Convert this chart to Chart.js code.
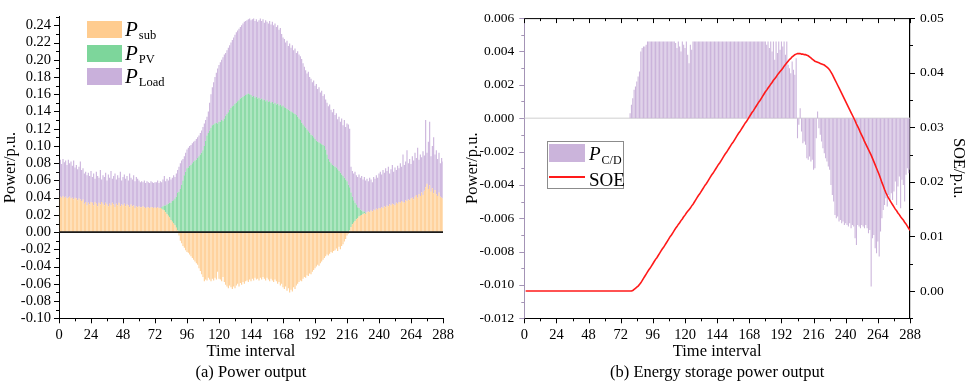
<!DOCTYPE html>
<html>
<head>
<meta charset="utf-8">
<title>Power output and energy storage power output</title>
<script src="https://cdn.jsdelivr.net/npm/chart.js@4.4.1/dist/chart.umd.min.js"></script>
<style>
  html, body { margin: 0; padding: 0; background: #fff; }
  body { position: relative; width: 969px; height: 383px; overflow: hidden;
         font-family: 'Liberation Serif', 'Times New Roman', serif; color: #000; }
  canvas { position: absolute; top: 0; }
  #powerChart { left: 0; }
  #storageChart { left: 462px; }
  .key { position: absolute; }
  .label { position: absolute; white-space: nowrap; }
  .label i { font-style: italic; }
  .label span { position: relative; margin-left: 1px; }
  #soeFrame { position: absolute; left: 547px; top: 141px; width: 75px; height: 46px; border: 1px solid #8c8c8c; }
</style>
</head>
<body>
<canvas id="powerChart" width="462" height="383"></canvas>
<canvas id="storageChart" width="507" height="383"></canvas>

<!-- legend of panel (a) -->
<div class="key" style="left:87px;top:21px;width:35px;height:17px;background:#FFCC8F"></div>
<div class="key" style="left:87px;top:44.5px;width:35px;height:17px;background:#7DD69B"></div>
<div class="key" style="left:87px;top:68px;width:35px;height:17px;background:#C9B0DB"></div>
<div class="label" style="left:125px;top:19px;font-size:21px;line-height:21px"><i>P</i><span style="font-size:12.5px;top:3px">sub</span></div>
<div class="label" style="left:125px;top:43px;font-size:21px;line-height:21px"><i>P</i><span style="font-size:12.5px;top:3px">PV</span></div>
<div class="label" style="left:125px;top:66px;font-size:21px;line-height:21px"><i>P</i><span style="font-size:12.5px;top:3px">Load</span></div>

<!-- legend of panel (b) -->
<div id="soeFrame"></div>
<div class="key" style="left:549px;top:144px;width:36px;height:18px;background:#CBB4DB"></div>
<div class="key" style="left:549px;top:176px;width:36px;height:1.6px;background:#FF1A1A"></div>
<div class="label" style="left:589px;top:144px;font-size:19px;line-height:19px"><i>P</i><span style="font-size:12px;top:4px">C/D</span></div>
<div class="label" style="left:589px;top:169.5px;font-size:19px;line-height:19px">SOE</div>

<script>
// time intervals (5 min steps over one day)
const intervals = Array.from({ length: 288 }, (_, i) => i + 1);

const xTicks = [0, 24, 48, 72, 96, 120, 144, 168, 192, 216, 240, 264, 288];
const powerTicks = [-0.10, -0.08, -0.06, -0.04, -0.02, 0.00, 0.02, 0.04, 0.06, 0.08, 0.10, 0.12,
                    0.14, 0.16, 0.18, 0.20, 0.22, 0.24];
const storageTicks = [-0.012, -0.010, -0.008, -0.006, -0.004, -0.002, 0.000, 0.002, 0.004, 0.006];
const soeTicks = [0.00, 0.01, 0.02, 0.03, 0.04, 0.05];

// (a) substation power
const pSub = [
  0.041,0.040,0.042,0.040,0.041,0.039,0.040,0.041,0.039,0.040,0.038,0.040,0.039,0.037,0.039,0.038,0.036,0.038,0.033,0.035,0.031,0.034,0.032,0.035,
  0.034,0.031,0.035,0.033,0.030,0.034,0.032,0.035,0.033,0.031,0.034,0.032,0.030,0.033,0.031,0.034,0.032,0.029,0.033,0.031,0.034,0.030,0.032,0.031,
  0.033,0.030,0.032,0.031,0.029,0.032,0.030,0.031,0.028,0.030,0.029,0.030,0.029,0.029,0.030,0.029,0.028,0.029,0.029,0.028,0.029,0.029,0.028,0.029,
  0.028,0.029,0.028,0.028,0.027,0.026,0.025,0.023,0.021,0.019,0.017,0.014,0.012,0.010,0.008,0.005,0.002,-0.004,-0.010,-0.013,-0.016,-0.018,-0.021,-0.023,
  -0.024,-0.026,-0.028,-0.030,-0.032,-0.034,-0.036,-0.038,-0.042,-0.045,-0.049,-0.052,-0.057,-0.055,-0.056,-0.053,-0.055,-0.057,-0.054,-0.056,-0.053,-0.055,-0.046,-0.054,
  -0.055,-0.057,-0.052,-0.058,-0.061,-0.063,-0.065,-0.062,-0.064,-0.066,-0.063,-0.065,-0.062,-0.060,-0.063,-0.059,-0.061,-0.058,-0.060,-0.057,-0.056,-0.058,-0.055,-0.057,
  -0.054,-0.056,-0.053,-0.055,-0.054,-0.056,-0.053,-0.055,-0.052,-0.054,-0.056,-0.053,-0.055,-0.057,-0.054,-0.056,-0.058,-0.055,-0.057,-0.060,-0.058,-0.062,-0.060,-0.064,
  -0.066,-0.063,-0.068,-0.065,-0.070,-0.067,-0.069,-0.064,-0.066,-0.062,-0.060,-0.058,-0.056,-0.057,-0.054,-0.052,-0.053,-0.050,-0.051,-0.048,-0.049,-0.046,-0.044,-0.042,
  -0.040,-0.038,-0.039,-0.036,-0.034,-0.032,-0.030,-0.028,-0.026,-0.027,-0.025,-0.023,-0.024,-0.022,-0.021,-0.019,-0.022,-0.017,-0.020,-0.016,-0.014,-0.011,-0.008,-0.004,
  -0.002,0.002,0.006,0.009,0.011,0.013,0.015,0.016,0.018,0.019,0.020,0.021,0.022,0.021,0.023,0.024,0.023,0.025,0.024,0.026,0.025,0.027,0.026,0.028,
  0.027,0.029,0.028,0.030,0.029,0.031,0.030,0.032,0.031,0.033,0.032,0.031,0.034,0.033,0.035,0.034,0.036,0.035,0.034,0.037,0.036,0.038,0.037,0.039,
  0.040,0.038,0.041,0.043,0.040,0.044,0.042,0.046,0.043,0.048,0.052,0.056,0.050,0.054,0.047,0.051,0.045,0.049,0.044,0.042,0.046,0.041,0.040,0.039
];

// (a) PV output
const pPV = [
  0,0,0,0,0,0,0,0,0,0,0,0,0,0,0,0,0,0,0,0,0,0,0,0,
  0,0,0,0,0,0,0,0,0,0,0,0,0,0,0,0,0,0,0,0,0,0,0,0,
  0,0,0,0,0,0,0,0,0,0,0,0,0,0,0,0,0,0,0,0,0,0,0,0,
  0,0,0,0,0.002,0.004,0.006,0.008,0.011,0.014,0.017,0.020,0.024,0.027,0.031,0.036,0.044,0.047,0.050,0.055,0.060,0.066,0.070,0.074,
  0.075,0.077,0.078,0.080,0.082,0.083,0.084,0.086,0.088,0.090,0.092,0.095,0.100,0.106,0.112,0.115,0.118,0.121,0.124,0.125,0.126,0.127,0.126,0.128,
  0.128,0.130,0.129,0.132,0.135,0.137,0.139,0.142,0.144,0.146,0.147,0.149,0.150,0.152,0.153,0.155,0.156,0.157,0.158,0.159,0.160,0.161,0.160,0.159,
  0.157,0.158,0.156,0.157,0.155,0.156,0.154,0.155,0.153,0.154,0.152,0.153,0.151,0.152,0.150,0.151,0.149,0.150,0.148,0.149,0.147,0.148,0.146,0.147,
  0.145,0.144,0.143,0.142,0.141,0.140,0.139,0.138,0.137,0.136,0.134,0.132,0.130,0.127,0.125,0.123,0.121,0.119,0.117,0.115,0.113,0.112,0.110,0.108,
  0.106,0.105,0.104,0.103,0.102,0.101,0.100,0.096,0.090,0.085,0.082,0.080,0.078,0.077,0.076,0.075,0.073,0.071,0.069,0.067,0.065,0.063,0.061,0.059,
  0.055,0.050,0.040,0.032,0.026,0.021,0.017,0.013,0.010,0.007,0.005,0.003,0.002,0.001,0,0,0,0,0,0,0,0,0,0,
  0,0,0,0,0,0,0,0,0,0,0,0,0,0,0,0,0,0,0,0,0,0,0,0,
  0,0,0,0,0,0,0,0,0,0,0,0,0,0,0,0,0,0,0,0,0,0,0,0
];

// (a) top of the purple load bars
const pLoad = [
  0.084,0.079,0.085,0.081,0.083,0.078,0.084,0.080,0.082,0.077,0.083,0.075,0.078,0.073,0.076,0.082,0.072,0.074,0.068,0.070,0.066,0.069,0.065,0.071,
  0.064,0.068,0.062,0.070,0.065,0.063,0.072,0.061,0.066,0.064,0.069,0.060,0.067,0.063,0.071,0.062,0.065,0.068,0.061,0.066,0.063,0.070,0.060,0.064,
  0.067,0.062,0.065,0.060,0.068,0.063,0.061,0.066,0.059,0.064,0.062,0.060,0.058,0.059,0.058,0.060,0.057,0.059,0.058,0.057,0.059,0.058,0.057,0.058,
  0.058,0.060,0.057,0.059,0.058,0.061,0.065,0.059,0.062,0.060,0.064,0.061,0.063,0.066,0.064,0.068,0.072,0.076,0.080,0.083,0.085,0.088,0.092,0.096,
  0.098,0.100,0.101,0.103,0.105,0.106,0.108,0.110,0.112,0.115,0.118,0.122,0.126,0.130,0.134,0.140,0.150,0.160,0.168,0.174,0.180,0.185,0.190,0.194,
  0.197,0.200,0.203,0.206,0.208,0.211,0.214,0.217,0.220,0.223,0.226,0.229,0.232,0.234,0.236,0.238,0.240,0.242,0.244,0.245,0.246,0.247,0.248,0.246,
  0.247,0.248,0.245,0.247,0.244,0.246,0.248,0.245,0.247,0.243,0.246,0.244,0.242,0.245,0.241,0.244,0.240,0.242,0.238,0.240,0.235,0.237,0.230,0.226,
  0.224,0.220,0.222,0.216,0.219,0.214,0.217,0.211,0.213,0.208,0.210,0.206,0.204,0.201,0.196,0.192,0.188,0.184,0.186,0.180,0.178,0.174,0.176,0.170,
  0.172,0.166,0.168,0.162,0.164,0.158,0.160,0.154,0.150,0.146,0.148,0.142,0.139,0.143,0.136,0.138,0.131,0.134,0.128,0.132,0.124,0.130,0.122,0.126,
  0.125,0.120,0.076,0.071,0.068,0.070,0.066,0.064,0.067,0.063,0.065,0.061,0.064,0.060,0.062,0.059,0.063,0.061,0.058,0.064,0.062,0.066,0.063,0.068,
  0.070,0.067,0.072,0.069,0.074,0.071,0.076,0.068,0.073,0.078,0.070,0.075,0.072,0.077,0.074,0.080,0.076,0.090,0.078,0.082,0.095,0.080,0.085,0.079,
  0.088,0.083,0.092,0.086,0.098,0.084,0.090,0.087,0.094,0.089,0.130,0.092,0.105,0.128,0.088,0.100,0.110,0.090,0.095,0.085,0.092,0.080,0.086,0.082
];

// (b) charge / discharge power of the storage
const pCD = [
  0,0,0,0,0,0,0,0,0,0,0,0,0,0,0,0,0,0,0,0,0,0,0,0,
  0,0,0,0,0,0,0,0,0,0,0,0,0,0,0,0,0,0,0,0,0,0,0,0,
  0,0,0,0,0,0,0,0,0,0,0,0,0,0,0,0,0,0,0,0,0,0,0,0,
  0,0,0,0,0,0,0.0003,0.0008,0.0012,0.0017,0.0019,0.0022,0.0025,0.0028,0.0040,0.0042,0.0043,0.0043,0.0044,0.0046,0.0046,0.0046,0.0046,0.0046,
  0.0046,0.0046,0.0046,0.0046,0.0046,0.0046,0.0046,0.0046,0.0046,0.0046,0.0046,0.0046,0.0046,0.0046,0.0046,0.0046,0.0045,0.0042,0.0046,0.0043,0.0040,0.0046,0.0044,0.0042,
  0.0046,0.0038,0.0033,0.0044,0.0041,0.0046,0.0046,0.0046,0.0046,0.0046,0.0046,0.0046,0.0046,0.0046,0.0046,0.0046,0.0046,0.0046,0.0046,0.0046,0.0046,0.0046,0.0046,0.0046,
  0.0046,0.0046,0.0046,0.0046,0.0046,0.0046,0.0046,0.0046,0.0046,0.0046,0.0046,0.0046,0.0046,0.0046,0.0046,0.0046,0.0046,0.0046,0.0046,0.0046,0.0046,0.0046,0.0046,0.0046,
  0.0046,0.0046,0.0046,0.0046,0.0046,0.0046,0.0046,0.0046,0.0046,0.0046,0.0046,0.0046,0.0044,0.0046,0.0042,0.0046,0.0040,0.0046,0.0035,0.0046,0.0039,0.0046,0.0041,0.0046,
  0.0043,0.0046,0.0038,0.0046,0.0032,0.0030,0.0027,0.0034,0.0029,0.0026,0.0036,-0.0012,-0.0004,0.0006,-0.0008,-0.0015,-0.0014,-0.0016,-0.0024,-0.0025,-0.0023,-0.0026,-0.0025,-0.0031,
  -0.0030,-0.0012,0.0004,-0.0006,-0.0010,-0.0014,-0.0018,-0.0021,-0.0024,-0.0026,-0.0029,-0.0031,-0.0040,-0.0046,-0.0050,-0.0058,-0.0060,-0.0059,-0.0062,-0.0061,-0.0063,-0.0062,-0.0064,-0.0063,
  -0.0064,-0.0065,-0.0063,-0.0066,-0.0064,-0.0065,-0.0072,-0.0076,-0.0064,-0.0065,-0.0066,-0.0064,-0.0065,-0.0066,-0.0064,-0.0066,-0.0069,-0.0067,-0.0101,-0.0072,-0.0070,-0.0078,-0.0081,-0.0074,
  -0.0083,-0.0068,-0.0060,-0.0055,-0.0052,-0.0048,-0.0053,-0.0046,-0.0050,-0.0045,-0.0049,-0.0044,-0.0038,-0.0052,-0.0041,-0.0035,-0.0054,-0.0037,-0.0040,-0.0050,-0.0034,-0.0030,-0.0033,-0.0031
];

// (b) state of energy
const soe = [
  0,0,0,0,0,0,0,0,0,0,0,0,0,0,0,0,0,0,0,0,0,0,0,0,
  0,0,0,0,0,0,0,0,0,0,0,0,0,0,0,0,0,0,0,0,0,0,0,0,
  0,0,0,0,0,0,0,0,0,0,0,0,0,0,0,0,0,0,0,0,0,0,0,0,
  0,0,0,0,0,0,0,0,0.0001,0.0003,0.0005,0.0007,0.0009,0.0012,0.0015,0.0019,0.0023,0.0027,0.0031,0.0035,0.0039,0.0042,0.0046,0.0050,
  0.0054,0.0058,0.0061,0.0065,0.0069,0.0073,0.0077,0.0080,0.0084,0.0088,0.0092,0.0096,0.0100,0.0103,0.0107,0.0111,0.0115,0.0118,0.0122,0.0125,0.0129,0.0132,0.0136,0.0139,
  0.0143,0.0146,0.0149,0.0152,0.0156,0.0159,0.0163,0.0167,0.0171,0.0175,0.0178,0.0182,0.0186,0.0190,0.0194,0.0197,0.0201,0.0205,0.0209,0.0213,0.0216,0.0220,0.0224,0.0228,
  0.0232,0.0235,0.0239,0.0243,0.0247,0.0251,0.0254,0.0258,0.0262,0.0266,0.0270,0.0273,0.0277,0.0281,0.0285,0.0289,0.0292,0.0296,0.0300,0.0304,0.0308,0.0311,0.0315,0.0319,
  0.0323,0.0327,0.0330,0.0334,0.0338,0.0342,0.0346,0.0349,0.0353,0.0357,0.0361,0.0365,0.0368,0.0372,0.0375,0.0379,0.0382,0.0386,0.0389,0.0392,0.0396,0.0399,0.0402,0.0405,
  0.0408,0.0412,0.0415,0.0418,0.0421,0.0424,0.0426,0.0429,0.0431,0.0433,0.0434,0.0435,0.0435,0.0435,0.0434,0.0434,0.0433,0.0433,0.0432,0.0431,0.0429,0.0427,0.0425,0.0423,
  0.0421,0.0420,0.0419,0.0418,0.0417,0.0416,0.0415,0.0414,0.0412,0.0410,0.0408,0.0405,0.0401,0.0397,0.0392,0.0387,0.0382,0.0377,0.0372,0.0367,0.0362,0.0357,0.0352,0.0347,
  0.0342,0.0337,0.0332,0.0327,0.0322,0.0317,0.0312,0.0306,0.0301,0.0296,0.0290,0.0285,0.0280,0.0274,0.0269,0.0264,0.0259,0.0254,0.0249,0.0243,0.0237,0.0231,0.0225,0.0219,
  0.0213,0.0206,0.0199,0.0193,0.0186,0.0180,0.0175,0.0170,0.0166,0.0162,0.0158,0.0154,0.0150,0.0147,0.0143,0.0140,0.0136,0.0133,0.0130,0.0126,0.0123,0.0119,0.0115,0.0111
];

Chart.defaults.font.family = "'Liberation Serif', 'Times New Roman', serif";
Chart.defaults.color = '#000';

// major + minor tick marks (Chart.js has no minor ticks), plus optional top frame line
const axisTicks = {
    id: 'axisTicks',
    afterDraw(chart, args, opts) {
        const { ctx, chartArea: a } = chart;
        ctx.save();
        if (opts.frameTop) {
            ctx.strokeStyle = '#000';
            ctx.lineWidth = 1;
            ctx.beginPath();
            ctx.moveTo(a.left, a.top + 0.5);
            ctx.lineTo(a.right, a.top + 0.5);
            ctx.stroke();
        }
        (opts.marks || []).forEach(m => {
            const s = chart.scales[m.scale];
            ctx.strokeStyle = m.color || '#000';
            ctx.lineWidth = 1;
            ctx.beginPath();
            const n = Math.round((m.max - m.min) / m.minor);
            for (let k = 0; k <= n; k++) {
                const v = m.min + k * m.minor;
                const len = (k + (m.phase || 0)) % m.every === 0 ? 5 : 3;
                if (m.side === 'bottom' || m.side === 'top') {
                    const x = Math.round(s.getPixelForValue(v)) + 0.5;
                    const y0 = m.side === 'bottom' ? a.bottom : a.top;
                    ctx.moveTo(x, y0);
                    ctx.lineTo(x, y0 + len);
                } else {
                    const y = Math.round(s.getPixelForValue(v)) + 0.5;
                    const x0 = m.side === 'left' ? a.left : a.right;
                    const dir = m.side === 'left' ? -1 : 1;
                    ctx.moveTo(x0, y);
                    ctx.lineTo(x0 + dir * len, y);
                }
            }
            ctx.stroke();
        });
        ctx.restore();
    }
};

// horizontal line at zero
const zeroLine = {
    id: 'zeroLine',
    beforeDatasetsDraw(chart, args, opts) {
        if (!opts.above) drawZero(chart, opts);
    },
    afterDatasetsDraw(chart, args, opts) {
        if (opts.above) drawZero(chart, opts);
    }
};

function drawZero(chart, opts) {
    const { ctx, chartArea: a } = chart;
    const y = chart.scales.y.getPixelForValue(0);
    ctx.save();
    ctx.strokeStyle = opts.color;
    ctx.lineWidth = opts.width;
    ctx.beginPath();
    ctx.moveTo(a.left, y);
    ctx.lineTo(a.right, y);
    ctx.stroke();
    ctx.restore();
}

const bigTicks = { size: 14.5 };
const smallTicks = { size: 13.5 };
const titleFont = { size: 16.5, lineHeight: 1.27 };
const noGrid = { display: false, drawTicks: false };

function xAxis(stacked, caption) {
    return {
        type: 'linear',
        stacked: stacked,
        offset: false,
        min: 0,
        max: 288,
        grid: noGrid,
        border: { color: '#000', width: 1 },
        afterBuildTicks: s => { s.ticks = xTicks.map(v => ({ value: v })); },
        afterFit: s => { s.height = 64.7; },
        ticks: { padding: 8, font: bigTicks, maxRotation: 0, autoSkip: false },
        title: { display: true, text: ['Time interval', caption], font: titleFont, padding: 0 }
    };
}

// panel (a): stacked bars, purple segment is whatever is left up to the load top
const loadSegment = pLoad.map((v, i) => +(v - Math.max(pSub[i], 0) - pPV[i]).toFixed(4));

new Chart(document.getElementById('powerChart'), {
    type: 'bar',
    data: {
        datasets: [
            {
                label: 'P_sub',
                data: intervals.map((x, i) => ({ x, y: pSub[i] })),
                backgroundColor: '#FFCC8F',
                barPercentage: 0.8,
                categoryPercentage: 1
            },
            {
                label: 'P_PV',
                data: intervals.map((x, i) => ({ x, y: pPV[i] })),
                backgroundColor: '#7DD69B',
                barPercentage: 0.8,
                categoryPercentage: 1
            },
            {
                label: 'P_Load',
                data: intervals.map((x, i) => ({ x, y: loadSegment[i] })),
                backgroundColor: '#C9B0DB',
                barPercentage: 0.8,
                categoryPercentage: 1
            }
        ]
    },
    options: {
        responsive: false,
        animation: false,
        events: [],
        layout: { padding: { top: 0, right: 19, left: 0, bottom: 0 } },
        plugins: {
            legend: { display: false },
            tooltip: { enabled: false },
            zeroLine: { above: true, color: '#1a1a1a', width: 1.6 },
            axisTicks: {
                marks: [
                    { scale: 'x', side: 'bottom', min: 0, max: 288, minor: 12, every: 2 },
                    { scale: 'y', side: 'left', min: -0.10, max: 0.25, minor: 0.01, every: 2 }
                ]
            }
        },
        scales: {
            x: xAxis(true, '(a) Power output'),
            y: {
                stacked: true,
                min: -0.10,
                max: 0.25,
                grid: noGrid,
                border: { color: '#000', width: 1 },
                afterBuildTicks: s => { s.ticks = powerTicks.map(v => ({ value: v })); },
                afterFit: s => { s.width = 59; },
                ticks: { padding: 8, font: bigTicks, autoSkip: false, callback: v => v.toFixed(2) },
                title: { display: true, text: 'Power/p.u.', font: titleFont, padding: 0 }
            }
        }
    },
    plugins: [axisTicks, zeroLine]
});

// panel (b): charge/discharge bars with the SOE line on a second axis
new Chart(document.getElementById('storageChart'), {
    type: 'bar',
    data: {
        datasets: [
            {
                type: 'line',
                label: 'SOE',
                data: intervals.map((x, i) => ({ x, y: soe[i] })),
                yAxisID: 'y2',
                borderColor: '#FF1A1A',
                borderWidth: 1.6,
                pointRadius: 0,
                tension: 0,
                order: 0
            },
            {
                label: 'P_C/D',
                data: intervals.map((x, i) => ({ x, y: pCD[i] })),
                yAxisID: 'y',
                backgroundColor: '#CBB4DB',
                barPercentage: 0.8,
                categoryPercentage: 1,
                order: 1
            }
        ]
    },
    options: {
        responsive: false,
        animation: false,
        events: [],
        layout: { padding: { top: 0, right: 0, left: 0, bottom: 0 } },
        plugins: {
            legend: { display: false },
            tooltip: { enabled: false },
            zeroLine: { above: false, color: '#cfcfcf', width: 1 },
            axisTicks: {
                frameTop: true,
                marks: [
                    { scale: 'x', side: 'bottom', min: 0, max: 288, minor: 12, every: 2 },
                    { scale: 'x', side: 'top', min: 0, max: 288, minor: 12, every: 2 },
                    { scale: 'y', side: 'left', min: -0.012, max: 0.006, minor: 0.001, every: 2, color: '#a494b6' },
                    { scale: 'y2', side: 'right', min: -0.005, max: 0.05, minor: 0.005, every: 2, phase: 1 }
                ]
            }
        },
        scales: {
            x: xAxis(false, '(b) Energy storage power output'),
            y: {
                position: 'left',
                min: -0.012,
                max: 0.006,
                grid: noGrid,
                border: { color: '#a494b6', width: 1 },
                afterBuildTicks: s => { s.ticks = storageTicks.map(v => ({ value: v })); },
                afterFit: s => { s.width = 62.3; },
                ticks: { padding: 10, font: smallTicks, autoSkip: false, callback: v => v.toFixed(3) },
                title: { display: true, text: 'Power/p.u.', font: titleFont, padding: 0 }
            },
            y2: {
                position: 'right',
                min: -0.005,
                max: 0.05,
                grid: noGrid,
                border: { color: '#000', width: 1.2 },
                afterBuildTicks: s => { s.ticks = soeTicks.map(v => ({ value: v })); },
                afterFit: s => { s.width = 59; },
                ticks: { padding: 10, font: smallTicks, autoSkip: false, callback: v => v.toFixed(2) },
                title: { display: true, text: 'SOE/p.u.', font: titleFont, padding: 0 }
            }
        }
    },
    plugins: [axisTicks, zeroLine]
});
</script>
</body>
</html>
